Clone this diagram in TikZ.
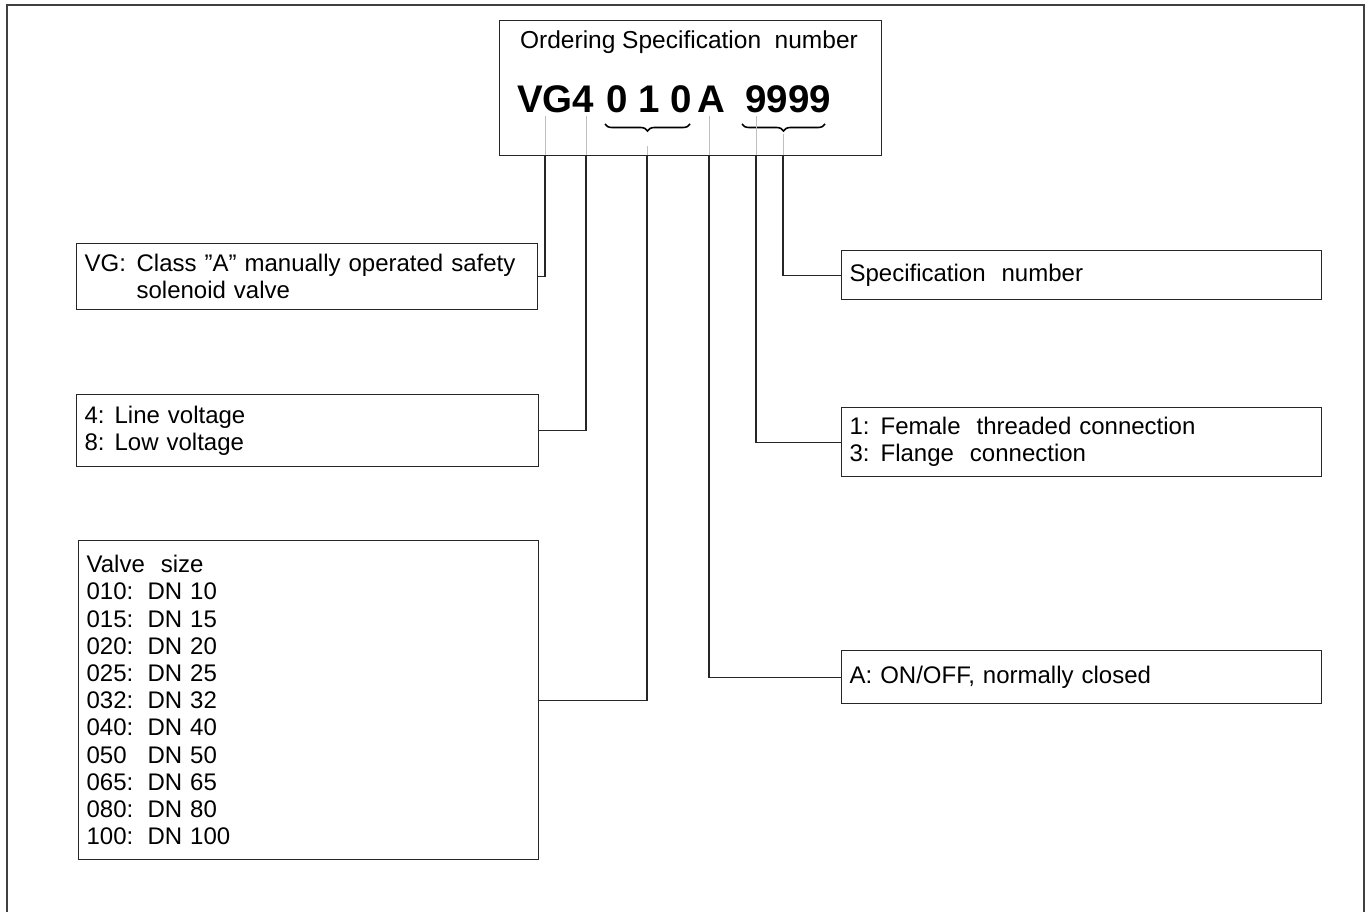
\documentclass[tikz,border=0pt]{standalone}
\usepackage{fontspec}
\setmainfont{Liberation Sans}
\usetikzlibrary{decorations.pathreplacing}
\begin{document}
\begin{tikzpicture}[x=1pt,y=-1pt,
  box/.style={draw=black!85, line width=1.2pt, rectangle, anchor=north west,
    inner xsep=8pt, inner ysep=0pt, align=left,
    font=\fontsize{24}{27.2}\selectfont},
  conn/.style={draw=black!85, line width=1.2pt},
  guide/.style={draw=black!25, line width=0.8pt},
  code/.style={font=\bfseries\fontsize{38.5}{40}\selectfont, inner sep=0pt, anchor=base west},
  brc/.style={decorate, decoration={brace, mirror, amplitude=7pt}, line width=1.6pt},
]
\useasboundingbox (0,0) rectangle (1371,912);
\draw[line width=1.6pt, draw=black!75] (7,912) -- (7,5) -- (1364,5) -- (1364,912);

% top box
\node[box, minimum width=382pt, minimum height=135pt, inner xsep=0pt] (top) at (499,20) {};
\node[font=\fontsize{24.5}{27}\selectfont, inner sep=0pt] (title) at (689,42) {Ordering Specification~ number};
\node[code] (cVG) at (517,113) {VG4};
\node[code] (cSize) at (606,113) {0 1 0};
\node[code] (cA) at (697,113) {A};
\node[code] (cNum) at (745,113) {9999};
\draw[brc] (605,124) -- (690,124);
\draw[brc] (742,124) -- (825,124);

% tick points on the bottom of the top box
\coordinate (gVG) at (545,155);
\coordinate (g4) at (586,155);
\coordinate (gSize) at (647,155);
\coordinate (gA) at (709,155);
\coordinate (gConn) at (756,155);
\coordinate (gSpec) at (783,155);

\draw[guide] (545,116) -- (gVG);
\draw[guide] (586,116) -- (g4);
\draw[guide] (647,146) -- (gSize);
\draw[guide] (709,116) -- (gA);
\draw[guide] (756,116) -- (gConn);
\draw[guide] (783,134) -- (gSpec);

% left boxes
\node[box, text width=445pt, minimum height=66pt] (vg) at (76,243)
  {\makebox[52pt][l]{VG:}Class ”A” manually operated safety\\\hspace*{52pt}solenoid valve};
\node[box, text width=446pt, minimum height=72pt] (volt) at (76,394)
  {\makebox[30pt][l]{4:}Line voltage\\\makebox[30pt][l]{8:}Low voltage};
\node[box, text width=444pt, minimum height=319pt] (size) at (78,540)
  {Valve~ size\\
   \makebox[61pt][l]{010:}DN 10\\
   \makebox[61pt][l]{015:}DN 15\\
   \makebox[61pt][l]{020:}DN 20\\
   \makebox[61pt][l]{025:}DN 25\\
   \makebox[61pt][l]{032:}DN 32\\
   \makebox[61pt][l]{040:}DN 40\\
   \makebox[61pt][l]{050}DN 50\\
   \makebox[61pt][l]{065:}DN 65\\
   \makebox[61pt][l]{080:}DN 80\\
   \makebox[61pt][l]{100:}DN 100};

% right boxes
\node[box, text width=464pt, minimum height=49pt] (spec) at (841,250) {Specification~ number};
\node[box, text width=464pt, minimum height=69pt] (conn) at (841,407)
  {\makebox[31pt][l]{1:}Female~ threaded connection\\\makebox[31pt][l]{3:}Flange~ connection};
\node[box, text width=464pt, minimum height=53pt] (func) at (841,650) {A: ON/OFF, normally closed};

% connectors
\draw[conn] (gVG) |- (vg.east);
\draw[conn] (g4) |- (volt.east);
\draw[conn] (gSize) |- (size.east);
\draw[conn] (gA) |- (func.west);
\draw[conn] (gConn) |- (conn.west);
\draw[conn] (gSpec) |- (spec.west);
\end{tikzpicture}
\end{document}
